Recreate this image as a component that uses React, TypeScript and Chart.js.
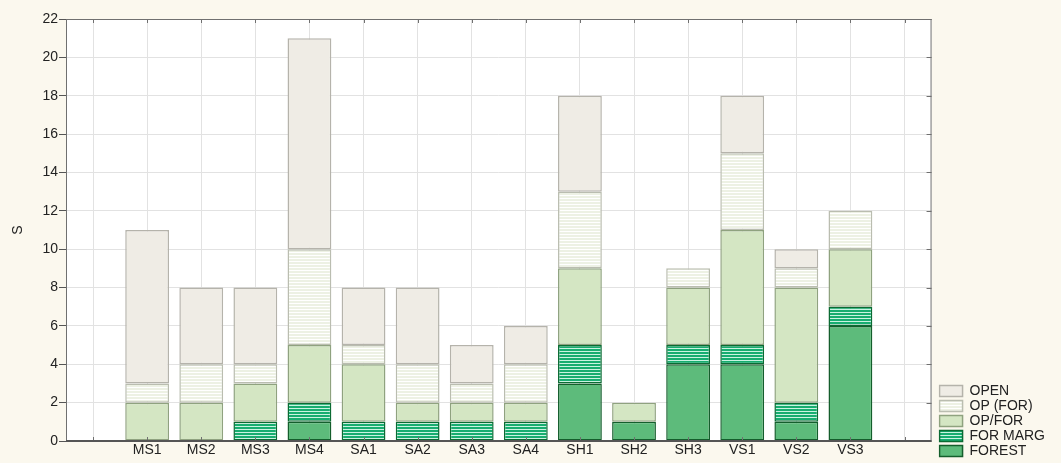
import React, { useEffect, useRef } from "react";
import { Chart, registerables } from "chart.js";

Chart.register(...registerables);

const categories = ["", "MS1", "MS2", "MS3", "MS4", "SA1", "SA2", "SA3", "SA4", "SH1", "SH2", "SH3", "VS1", "VS2", "VS3", ""];
const forestValues = [null, 0, 0, 0, 1, 0, 0, 0, 0, 3, 1, 4, 4, 1, 6, null];
const forMargValues = [null, 0, 0, 1, 1, 1, 1, 1, 1, 2, 0, 1, 1, 1, 1, null];
const opForValues = [null, 2, 2, 2, 3, 3, 1, 1, 1, 4, 1, 3, 6, 6, 3, null];
const opParForValues = [null, 1, 2, 1, 5, 1, 2, 1, 2, 4, 0, 1, 4, 1, 2, null];
const openValues = [null, 8, 4, 4, 11, 3, 4, 2, 2, 5, 0, 0, 3, 1, 0, null];
const seriesNames = ["FOREST", "FOR MARG", "OP/FOR", "OP (FOR)", "OPEN"];
const yTicksMax = 22;
const yTicksStep = 2;
const yTitle = "S";

const FONT = "'Liberation Sans', Arial, sans-serif";

function stripes(base: string, line: string, period: number) {
  const c = document.createElement("canvas");
  c.width = 4;
  c.height = period;
  const g = c.getContext("2d")!;
  g.fillStyle = base;
  g.fillRect(0, 0, 4, period);
  g.fillStyle = line;
  g.fillRect(0, 0, 4, 1);
  return g.createPattern(c, "repeat")!;
}

const framePlugin = {
  id: "frame",
  beforeDraw(chart: any) {
    const { ctx, chartArea: a, width, height } = chart;
    ctx.save();
    ctx.fillStyle = "#fbf8ee";
    ctx.fillRect(0, 0, width, height);
    ctx.fillStyle = "#ffffff";
    ctx.fillRect(a.left, a.top, a.right - a.left, a.bottom - a.top);
    ctx.restore();
  },
  afterDraw(chart: any) {
    const { ctx, chartArea: a, scales } = chart;
    const x = scales.x;
    const y = scales.y;
    ctx.save();
    ctx.strokeStyle = "#707070";
    ctx.lineWidth = 1;
    ctx.beginPath();
    ctx.moveTo(a.left, a.top + 0.5);
    ctx.lineTo(a.right, a.top + 0.5);
    ctx.moveTo(a.right - 0.5, a.top);
    ctx.lineTo(a.right - 0.5, a.bottom);
    ctx.moveTo(a.left + 0.5, a.top);
    ctx.lineTo(a.left + 0.5, a.bottom);
    x.ticks.forEach((_: any, i: number) => {
      const px = Math.round(x.getPixelForTick(i)) + 0.5;
      ctx.moveTo(px, a.top);
      ctx.lineTo(px, a.top + 4);
      ctx.moveTo(px, a.bottom);
      ctx.lineTo(px, a.bottom - 4);
    });
    y.ticks.forEach((_: any, i: number) => {
      const py = Math.round(y.getPixelForTick(i)) + 0.5;
      ctx.moveTo(a.right, py);
      ctx.lineTo(a.right - 5, py);
    });
    ctx.stroke();
    ctx.strokeStyle = "#555555";
    ctx.lineWidth = 2;
    ctx.beginPath();
    ctx.moveTo(a.left, a.bottom);
    ctx.lineTo(a.right, a.bottom);
    ctx.stroke();
    ctx.restore();
  },
};

export default function App() {
  const ref = useRef<HTMLCanvasElement>(null);

  useEffect(() => {
    document.body.style.margin = "0";
    document.body.style.background = "#fbf8ee";
    const canvas = ref.current!;
    const forMargPattern = stripes("#17ad70", "#c9f3e1", 3);
    const opParForPattern = stripes("#edf1e4", "#ffffff", 3);

    const chart = new Chart(canvas, {
      type: "bar",
      data: {
        labels: categories,
        datasets: [
          { label: seriesNames[0], data: forestValues, backgroundColor: "#5dbb7b", borderColor: "#145e2c", borderWidth: 1.5, borderSkipped: false },
          { label: seriesNames[1], data: forMargValues, backgroundColor: forMargPattern as any, borderColor: "#0b6b33", borderWidth: 1.5, borderSkipped: false },
          { label: seriesNames[2], data: opForValues, backgroundColor: "#d4e6c3", borderColor: "#8fa27f", borderWidth: 1.5, borderSkipped: false },
          { label: seriesNames[3], data: opParForValues, backgroundColor: opParForPattern as any, borderColor: "#babdb0", borderWidth: 1.5, borderSkipped: false },
          { label: seriesNames[4], data: openValues, backgroundColor: "#efece5", borderColor: "#b5b3ab", borderWidth: 1.5, borderSkipped: false },
        ] as any,
      },
      options: {
        responsive: false,
        animation: false,
        layout: { padding: { left: 8, top: 19, right: 6, bottom: 4 } },
        datasets: { bar: { categoryPercentage: 1, barPercentage: 0.81 } } as any,
        scales: {
          x: {
            stacked: true,
            grid: { color: "#e2e2e2", offset: false, drawTicks: false },
            border: { display: false },
            ticks: { color: "#222", font: { family: FONT, size: 14, lineHeight: 1 }, padding: 2, autoSkip: false, maxRotation: 0 },
          },
          y: {
            stacked: true,
            min: 0,
            max: yTicksMax,
            grid: { color: "#e2e2e2", tickLength: 7, tickColor: "#555" },
            border: { display: false },
            ticks: { stepSize: yTicksStep, color: "#222", font: { family: FONT, size: 14 }, padding: 1 },
            title: { display: true, text: yTitle, color: "#222", font: { family: FONT, size: 14 }, padding: { top: 2, bottom: 0 } },
            afterFit: (s: any) => { s.width = 58; },
          },
          y2: {
            position: "right",
            display: true,
            grid: { display: false, drawTicks: false },
            border: { display: false },
            ticks: { display: false },
            afterFit: (s: any) => { s.width = 7; },
          },
        } as any,
        plugins: {
          tooltip: { enabled: false },
          legend: {
            position: "right",
            align: "end",
            reverse: true,
            labels: {
              boxWidth: 23,
              boxHeight: 11,
              padding: 1,
              color: "#222",
              font: { family: FONT, size: 14, lineHeight: 1 },
            },
          },
        },
      },
      plugins: [framePlugin],
    });
    return () => chart.destroy();
  }, []);

  return (
    <div style={{ width: 1061, height: 463 }}>
      <canvas ref={ref} width={1061} height={463} style={{ display: "block" }} />
    </div>
  );
}
